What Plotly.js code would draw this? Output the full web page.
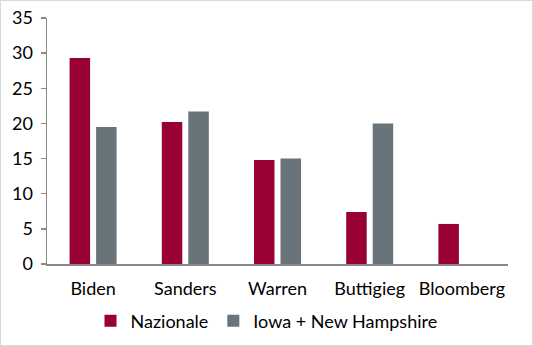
<!DOCTYPE html>
<html>
<head>
<meta charset="utf-8">
<script src="https://cdn.plot.ly/plotly-3.0.1.min.js"></script>
<style>
  html, body { margin: 0; padding: 0; background: #fff; }
  #wrap { position: relative; width: 533px; height: 346px; }
  #chart { width: 533px; height: 346px; }
  #frame { position: absolute; left: 0; top: 0; width: 533px; height: 346px; box-sizing: border-box; border: 1px solid #d9d9d9; pointer-events: none; }
</style>
</head>
<body>
<div id="wrap"><div id="chart"></div><div id="frame"></div></div>
<script>
const categories = ["Biden", "Sanders", "Warren", "Buttigieg", "Bloomberg"];
const nazionale = [29.3, 20.2, 14.8, 7.4, 5.7];
const iowaNH = [19.5, 21.7, 15.0, 20.0, null];
const seriesNames = ["Nazionale", "Iowa + New Hampshire"];
const yTicks = [0, 5, 10, 15, 20, 25, 30, 35];

const font = { family: "Lato, 'Open Sans', sans-serif", size: 18, color: "#000" };

const traces = [
  { type: "bar", name: seriesNames[0], x: categories, y: nazionale, marker: { color: "#990033" }, hoverinfo: "skip" },
  { type: "bar", name: seriesNames[1], x: categories, y: iowaNH, marker: { color: "#68737a" }, hoverinfo: "skip" }
];

const layout = {
  width: 533, height: 346,
  margin: { l: 47, r: 25, t: 18, b: 82, pad: 0 },
  paper_bgcolor: "#fff", plot_bgcolor: "#fff",
  font: font,
  barmode: "group",
  bargap: 0.425,
  bargroupgap: 0.226,
  showlegend: true,
  legend: {
    orientation: "h", xref: "container", yref: "container",
    x: 0.5, xanchor: "center", y: 1 - 321 / 346, yanchor: "middle",
    font: font, itemclick: false, tracegroupgap: 0
  },
  xaxis: {
    type: "category", showgrid: false, zeroline: false,
    showline: true, linecolor: "#898989", linewidth: 1.5,
    ticks: "", tickfont: font, ticklabelstandoff: 8, fixedrange: true
  },
  yaxis: {
    range: [0, 35], tickvals: yTicks, ticktext: yTicks.map(String),
    showgrid: false, zeroline: false,
    showline: true, linecolor: "#898989", linewidth: 1.5,
    ticks: "outside", ticklen: 5, tickcolor: "#898989", tickwidth: 1.5,
    tickfont: font, ticklabelstandoff: 4, fixedrange: true
  }
};

Plotly.newPlot("chart", traces, layout, { displayModeBar: false, staticPlot: true });
</script>
</body>
</html>
